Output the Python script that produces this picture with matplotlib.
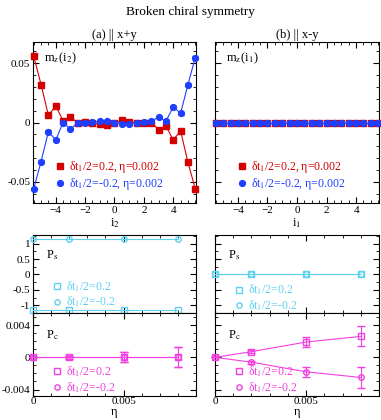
import matplotlib
matplotlib.use("Agg")
import matplotlib.pyplot as plt
from matplotlib.lines import Line2D
from matplotlib.ticker import MultipleLocator

plt.rcParams['font.family'] = ['Liberation Serif', 'DejaVu Serif']
plt.rcParams['mathtext.fontset'] = 'stix'
plt.rcParams['font.size'] = 8

RED = '#d40000'
BLUE = '#1f3fff'
CYAN = '#5fd0f0'
MAG = '#f040e0'

# site positions along the cut
i_pos = [-5.5, -5.0, -4.5, -4.0, -3.5, -3.0, -2.5, -2.0, -1.5, -1.0, -0.5, 0.0,
         0.5, 1.0, 1.5, 2.0, 2.5, 3.0, 3.5, 4.0, 4.5, 5.0, 5.5]
# (a) || x+y
mz_a_red = [0.056, 0.032, 0.006, 0.0139, 0.0015, 0.0044, 0.0, 0.0005, 0.0, -0.0015, -0.0025, 0.0,
            0.002, 0.0005, 0.0, -0.0005, 0.0, -0.006, -0.003, -0.0147, -0.0071, -0.0335, -0.056]
mz_a_blue = [-0.056, -0.033, -0.0077, -0.0147, 0.0, -0.0057, 0.0, 0.0, 0.0005, 0.001, 0.0015, 0.0,
             -0.001, -0.001, 0.0, 0.0005, 0.001, 0.0046, 0.001, 0.0133, 0.0077, 0.032, 0.0548]
# (b) || x-y
mz_b_red = [0.0] * 23
mz_b_blue = [0.0] * 23

eta = [0.0, 0.002, 0.005, 0.008]
ps_a_plus = [-1.16, -1.16, -1.16, -1.16]
ps_a_minus = [1.14, 1.14, 1.14, 1.14]
ps_b_plus = [0.0, 0.0, 0.0, 0.0]
ps_b_minus = [0.0, 0.0, 0.0, 0.0]
pc_a_plus = [0.0, 0.0, 0.0, 0.0]
pc_a_minus = [0.0, 0.0, 0.0, 0.0]
pc_a_err = [0.0, 0.0002, 0.0006, 0.00125]
pc_b_plus = [0.0, 0.0007, 0.0019, 0.0026]
pc_b_minus = [0.0, -0.0006, -0.0018, -0.0025]
pc_b_err = [0.0, 0.0002, 0.0006, 0.00125]

W, H = 381, 420
fig = plt.figure(figsize=(W / 100, H / 100), dpi=100)


def box(l, r, t, b):
    return [l / W, 1 - b / H, (r - l) / W, (b - t) / H]


ax_a = fig.add_axes(box(33, 196, 42, 203))
ax_b = fig.add_axes(box(215, 379, 42, 203))
ax_psa = fig.add_axes(box(33, 196, 235, 313))
ax_psb = fig.add_axes(box(215, 379, 235, 313))
ax_pca = fig.add_axes(box(33, 196, 313, 396))
ax_pcb = fig.add_axes(box(215, 379, 313, 396))

for ax in fig.axes:
    ax.tick_params(which='both', direction='in', top=True, right=True, labelsize=8, pad=2)
    ax.tick_params(which='major', length=4, width=0.8)
    ax.tick_params(which='minor', length=2, width=0.6)
    for s in ax.spines.values():
        s.set_linewidth(0.8)

# top panels
for ax, red, blue, lab in [(ax_a, mz_a_red, mz_a_blue, 'm$_\\mathrm{z}$(i$_2$)'),
                           (ax_b, mz_b_red, mz_b_blue, 'm$_\\mathrm{z}$(i$_1$)')]:
    ax.errorbar(i_pos, red, yerr=0.001, color=RED, marker='s', ms=4.2, lw=0.8,
                elinewidth=0.6, capsize=2, clip_on=False, zorder=3)
    ax.errorbar(i_pos, blue, yerr=0.001, color=BLUE, marker='o', ms=4.2, lw=0.8,
                elinewidth=0.6, capsize=2, clip_on=False, zorder=4)
    ax.set_xlim(-5.55, 5.55)
    ax.set_ylim(-0.068, 0.068)
    ax.xaxis.set_major_locator(MultipleLocator(2))
    ax.xaxis.set_minor_locator(MultipleLocator(0.5))
    ax.yaxis.set_major_locator(MultipleLocator(0.05))
    ax.yaxis.set_minor_locator(MultipleLocator(0.01))
    ax.text(0.07, 0.88, lab, transform=ax.transAxes, fontsize=9)
    hs = [Line2D([], [], ls='none', marker='s', color=RED, ms=4.2),
          Line2D([], [], ls='none', marker='o', color=BLUE, ms=4.2)]
    ax.legend(hs, ['δt$_1$/2=0.2, η=0.002', 'δt$_1$/2=-0.2, η=0.002'],
              labelcolor=[RED, BLUE], frameon=False, loc='lower left',
              bbox_to_anchor=(0.1, 0.03), handlelength=0.8, handletextpad=0.4,
              borderpad=0, labelspacing=0.1, fontsize=8.5)

ax_a.set_yticks([-0.05, 0, 0.05])
ax_a.set_yticklabels(['-0.05', '0', '0.05'])
ax_a.set_xticks([-4, -2, 0, 2, 4])
ax_b.set_xticks([-4, -2, 0, 2, 4])
ax_b.set_yticklabels([])
ax_a.set_xlabel('i$_2$', fontsize=9, labelpad=1)
ax_b.set_xlabel('i$_1$', fontsize=9, labelpad=1)
ax_a.set_title('(a) || x+y', fontsize=9, pad=3)
ax_b.set_title('(b) || x-y', fontsize=9, pad=3)
fig.text(0.5, 1 - 12 / H, 'Broken chiral symmetry', ha='center', va='center', fontsize=9.5)

# P panels
specs = [
    (ax_psa, ps_a_plus, ps_a_minus, None, None, CYAN, 'P$_\\mathrm{s}$', -0.03),
    (ax_psb, ps_b_plus, ps_b_minus, None, None, CYAN, 'P$_\\mathrm{s}$', -0.075),
    (ax_pca, pc_a_plus, pc_a_minus, pc_a_err, pc_a_err, MAG, 'P$_\\mathrm{c}$', -0.056),
    (ax_pcb, pc_b_plus, pc_b_minus, pc_b_err, pc_b_err, MAG, 'P$_\\mathrm{c}$', -0.056),
]
for ax, yp, ym, ep, em, c, lab, ly in specs:
    ax.errorbar(eta, yp, yerr=ep, color=c, marker='s', mfc='none', ms=4.5, lw=0.8,
                elinewidth=0.8, capsize=3, clip_on=False, zorder=3)
    ax.errorbar(eta, ym, yerr=em, color=c, marker='o', mfc='none', ms=4, lw=0.8,
                elinewidth=0.8, capsize=3, clip_on=False, zorder=3)
    ax.set_xlim(0, 0.009)
    ax.xaxis.set_major_locator(MultipleLocator(0.005))
    ax.xaxis.set_minor_locator(MultipleLocator(0.001))
    ax.text(0.08, 0.7, lab, transform=ax.transAxes, fontsize=9)
    hs = [Line2D([], [], ls='none', marker='s', color=c, mfc='none', ms=4.2),
          Line2D([], [], ls='none', marker='o', color=c, mfc='none', ms=3.8)]
    ax.legend(hs, ['δt$_1$/2=0.2', 'δt$_1$/2=-0.2'],
              labelcolor=[c, c], frameon=False, loc='lower left',
              bbox_to_anchor=(0.08, ly), handlelength=0.8, handletextpad=0.4,
              borderpad=0, labelspacing=0.1, fontsize=8.5)

for ax in (ax_psa, ax_psb):
    ax.set_ylim(-1.25, 1.28)
    ax.yaxis.set_major_locator(MultipleLocator(0.5))
    ax.yaxis.set_minor_locator(MultipleLocator(0.25))
    ax.set_xticklabels([])
ax_psa.set_yticks([-1, -0.5, 0, 0.5, 1])
ax_psa.set_yticklabels(['-1', '-0.5', '0', '0.5', '1'])
ax_psb.set_yticklabels([])

for ax in (ax_pca, ax_pcb):
    ax.set_ylim(-0.0048, 0.0055)
    ax.yaxis.set_major_locator(MultipleLocator(0.004))
    ax.yaxis.set_minor_locator(MultipleLocator(0.001))
    ax.set_xticks([0, 0.005])
    ax.set_xticklabels(['0', '0.005'])
    ax.tick_params(axis='x', pad=1)
    ax.set_xlabel('η', fontsize=9, labelpad=0)
ax_pca.set_yticks([-0.004, 0, 0.004])
ax_pca.set_yticklabels(['-0.004', '0', '0.004'])
ax_pcb.set_yticklabels([])

fig.savefig('out.png', dpi=100)
